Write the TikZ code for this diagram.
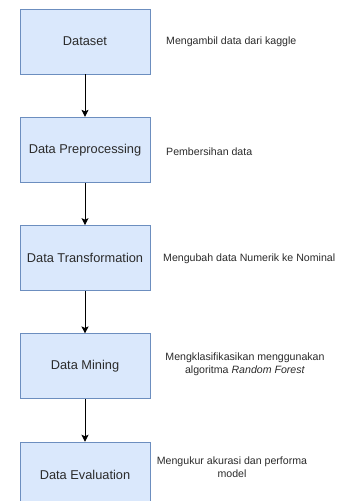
\documentclass[tikz,border=0pt]{standalone}
\usepackage{fontspec}
\setmainfont{Liberation Sans}
\usetikzlibrary{arrows.meta}
\definecolor{boxfill}{HTML}{DAE8FC}
\definecolor{boxline}{HTML}{6C8EBF}
\definecolor{txt}{HTML}{2B2B2B}
\begin{document}
\begin{tikzpicture}[x=1pt,y=-1pt,
  stage/.style={draw=boxline,fill=boxfill,line width=0.9pt,minimum width=130pt,minimum height=65pt,
    inner sep=0pt,text=txt,font=\fontsize{12.8}{15}\selectfont},
  note/.style={text=txt,inner sep=0pt,font=\fontsize{10.6}{12.6}\selectfont},
  flow/.style={draw=black,line width=0.95pt,-{Stealth[length=7pt,width=7pt,inset=1.5pt]}}]
\useasboundingbox (0,0) rectangle (342,501);
\clip (0,0) rectangle (342,501);
\fill[white] (0,0) rectangle (342,501);

\node[stage] (ds)  at (85,41.5)  {Dataset};
\node[stage] (pre) at (85,149.8) {Data Preprocessing};
\node[stage] (tr)  at (85,258.1) {Data Transformation};
\node[stage] (dm)  at (85,366.4) {Data Mining};
\node[stage] (ev)  at (85,474.7) {Data Evaluation};

\draw[flow] (ds)  -- (pre);
\draw[flow] (pre) -- (tr);
\draw[flow] (tr)  -- (dm);
\draw[flow] (dm)  -- (ev);

\node[note,anchor=west] (n1) at (166,42)  {Mengambil data dari kaggle};
\node[note,anchor=west] (n2) at (166,152) {Pembersihan data};
\node[note,anchor=west] (n3) at (163,259) {Mengubah data Numerik ke Nominal};
\node[note,align=center] (n4) at (245,364) {Mengklasifikasikan menggunakan\\algoritma \textit{Random Forest}};
\node[note,align=center] (n5) at (232,467) {Mengukur akurasi dan performa\\model};
\end{tikzpicture}
\end{document}
